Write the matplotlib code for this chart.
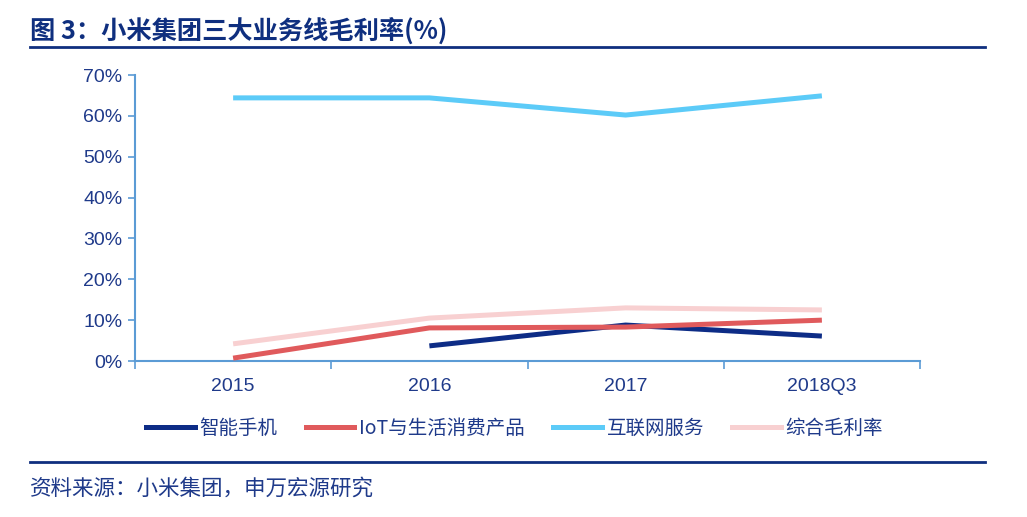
import numpy as np
import matplotlib
matplotlib.use("Agg")
import matplotlib.pyplot as plt

plt.rcParams['font.family'] = ['Liberation Sans', 'Noto Sans CJK SC', 'DejaVu Sans']

categories = ["2015", "2016", "2017", "2018Q3"]
series_names = ["智能手机", "IoT与生活消费产品", "互联网服务", "综合毛利率"]
smartphone = [np.nan, 3.7, 8.8, 6.1]
iot = [0.7, 8.1, 8.3, 10.0]
internet = [64.4, 64.4, 60.2, 64.9]
overall = [4.2, 10.5, 13.0, 12.5]
y_ticks = [0, 10, 20, 30, 40, 50, 60, 70]

colors = ["#0D2C86", "#E05A5C", "#5CCBF8", "#F8D0D1"]
text_blue = "#1F3A8A"
axis_blue = "#5B9BD5"
dark_blue = "#0F2F7F"
cjk = ['Noto Sans CJK SC', 'DejaVu Sans']

fig = plt.figure(figsize=(10.27, 5.17), dpi=100)
ax = fig.add_axes([135 / 1027, 1 - 361 / 517, (920 - 135) / 1027, (361 - 75) / 517])

x = np.arange(len(categories))
# draw back to front so overlaps look like the original
ax.plot(x, overall, color=colors[3], lw=3.6, solid_capstyle='butt', zorder=2)
ax.plot(x, internet, color=colors[2], lw=3.6, solid_capstyle='butt', zorder=3)
ax.plot(x, smartphone, color=colors[0], lw=3.6, solid_capstyle='butt', zorder=4)
ax.plot(x, iot, color=colors[1], lw=3.6, solid_capstyle='butt', zorder=5)

ax.set_xlim(-0.5, len(categories) - 0.5)
ax.set_ylim(0, 70)
ax.set_yticks(y_ticks)
ax.set_yticklabels([f"{v}%" for v in y_ticks])
ax.set_xticks(x)
ax.set_xticklabels(categories)
ax.set_xticks(np.arange(len(categories) + 1) - 0.5, minor=True)

for s in ["top", "right"]:
    ax.spines[s].set_visible(False)
for s in ["left", "bottom"]:
    ax.spines[s].set_color(axis_blue)
    ax.spines[s].set_linewidth(1.5)

ax.tick_params(axis='y', colors=axis_blue, labelcolor=text_blue, labelsize=14,
               length=5, width=1.2, pad=4)
ax.tick_params(axis='x', which='major', length=0, labelcolor=text_blue,
               labelsize=14, pad=12)
ax.tick_params(axis='x', which='minor', colors=axis_blue, length=6, width=1.2)

# legend
handles = [plt.Line2D([], [], color=c, lw=3.6) for c in colors]
fig.legend(handles, series_names, loc='center', bbox_to_anchor=(0.501, 1 - 428 / 517),
           ncol=4, frameon=False, handlelength=2.5, columnspacing=1.45,
           handletextpad=0.25, prop={'family': cjk, 'size': 14},
           labelcolor=text_blue)

# title and footer
fig.text(30 / 1027, 1 - 31 / 517, "图 3：小米集团三大业务线毛利率(%)", fontsize=18.2,
         fontweight='bold', color=dark_blue, va='center', ha='left', family=cjk)
fig.add_artist(plt.Line2D([30 / 1027, 985 / 1027], [1 - 47 / 517, 1 - 47 / 517],
                          color=dark_blue, lw=2))
fig.add_artist(plt.Line2D([30 / 1027, 985 / 1027], [1 - 462 / 517, 1 - 462 / 517],
                          color=dark_blue, lw=2))
fig.text(30 / 1027, 1 - 489 / 517, "资料来源：小米集团，申万宏源研究", fontsize=15.5,
         color=text_blue, va='center', ha='left', family=cjk)

fig.savefig("out.png", dpi=100)
